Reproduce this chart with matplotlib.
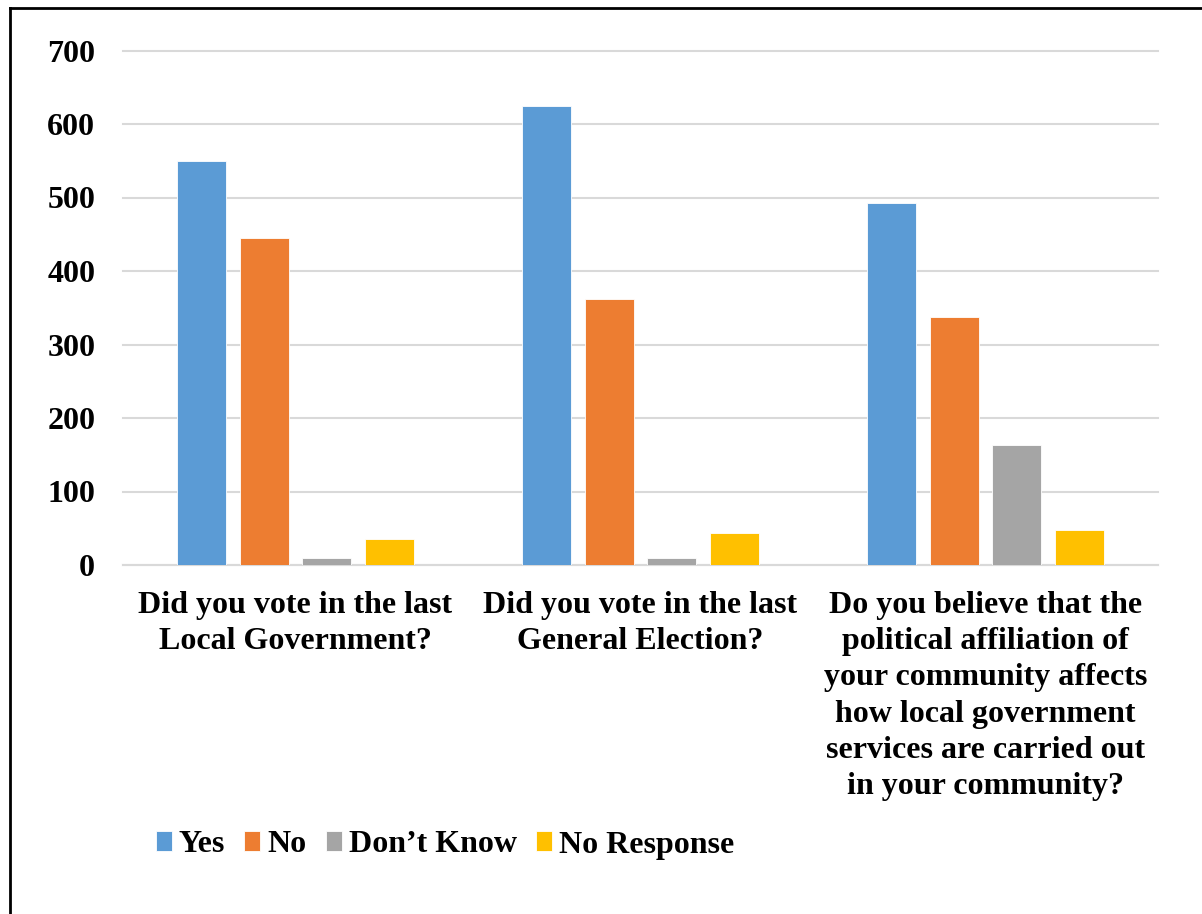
import matplotlib
matplotlib.use("Agg")
import matplotlib.pyplot as plt
import numpy as np
from matplotlib.lines import Line2D

categories = [
    "Did you vote in the last\nLocal Government?",
    "Did you vote in the last\nGeneral Election?",
    "Do you believe that the\npolitical affiliation of\nyour community affects\nhow local government\nservices are carried out\nin your community?",
]
series_names = ["Yes", "No", "Don\u2019t Know", "No Response"]
yes = [550, 625, 492]
no = [445, 362, 338]
dont_know = [10, 10, 163]
no_response = [35, 43, 48]
yticks = [0, 100, 200, 300, 400, 500, 600, 700]

colors = ["#5B9BD5", "#ED7D31", "#A5A5A5", "#FFC000"]

plt.rcParams['font.family'] = ['Liberation Serif', 'DejaVu Serif']
plt.rcParams['font.weight'] = 'bold'

fig = plt.figure(figsize=(12.02, 9.14), dpi=100)
W, H = 1202, 914
ax = fig.add_axes([123 / W, 1 - 565 / H, (1158 - 123) / W, (565 - 50.5) / H])

x = np.arange(len(categories))
width = 0.142
step = 0.181
data = [yes, no, dont_know, no_response]
for i, (name, vals, c) in enumerate(zip(series_names, data, colors)):
    offs = (i - 1.5) * step
    ax.bar(x + offs, vals, width, color=c, label=name, zorder=3,
           edgecolor='white', linewidth=0.6)

ax.set_xlim(-0.5, 2.5)
ax.set_ylim(0, 700)
ax.set_yticks(yticks)
ax.set_yticklabels([str(v) for v in yticks], fontsize=23, fontweight='bold')
ax.yaxis.grid(True, color='#D9D9D9', linewidth=1.5, zorder=0)
for gl in ax.get_ygridlines():
    gl.set_clip_on(False)
ax.set_axisbelow(True)
for s in ['top', 'right', 'left']:
    ax.spines[s].set_visible(False)
ax.spines['bottom'].set_color('#D9D9D9')
ax.spines['bottom'].set_linewidth(1.5)
ax.tick_params(axis='y', length=0, pad=20)
ax.tick_params(axis='x', length=0, pad=19)
ax.set_xticks(x)
ax.set_xticklabels(categories, fontsize=23, fontweight='bold', linespacing=1.32, va='top')

handles, labels = ax.get_legend_handles_labels()
leg = fig.legend(handles, labels, loc='center left', bbox_to_anchor=(127 / W, 1 - 845 / H),
                 ncol=4, frameon=False, handlelength=0.5, handleheight=0.6,
                 handletextpad=0.22, columnspacing=0.6, prop={'weight': 'bold', 'size': 23})

fig.add_artist(Line2D([10 / W, 10 / W], [0, 1 - 8 / H], transform=fig.transFigure,
                      color='black', linewidth=2))
fig.add_artist(Line2D([10 / W, 1], [1 - 8 / H, 1 - 8 / H], transform=fig.transFigure,
                      color='black', linewidth=2))

fig.savefig("out.png", dpi=100)
